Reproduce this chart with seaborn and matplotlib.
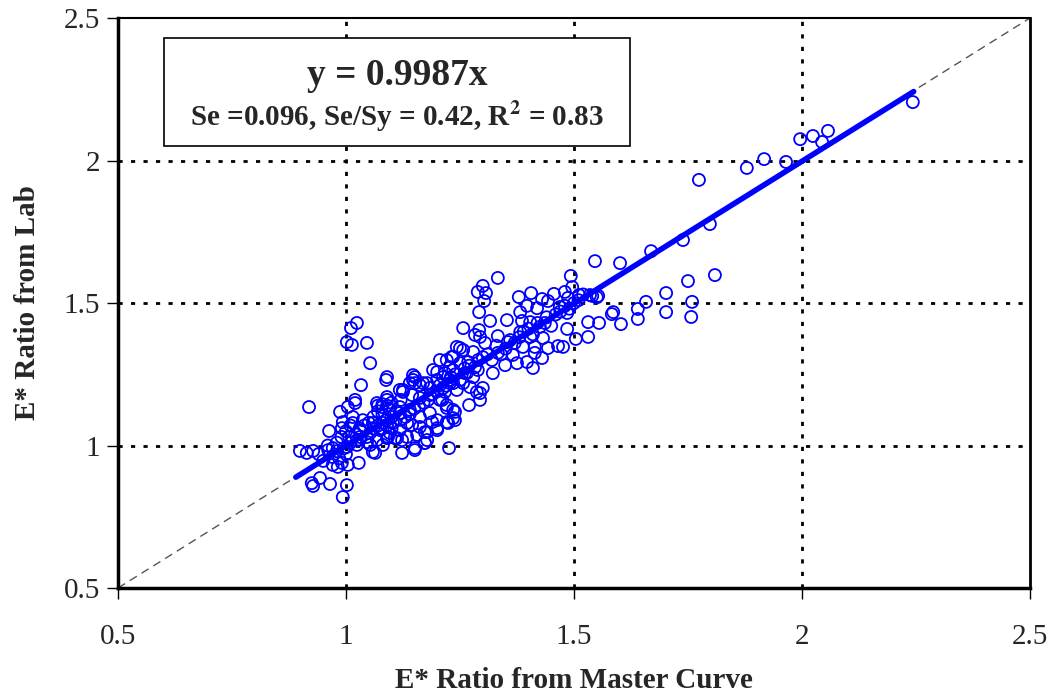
import numpy as np
import matplotlib
matplotlib.use("Agg")
import matplotlib.pyplot as plt
import matplotlib.patches as patches
import seaborn as sns
import pandas as pd

# E* ratio from master curve (x) vs E* ratio from lab (y)
x_master = [
    2.243, 2.057, 2.044, 2.024, 1.996, 1.965, 1.917, 1.879, 1.774, 1.798, 1.739, 1.669,
    1.546, 1.601, 1.809, 1.750, 1.702, 1.658, 1.759, 1.640, 1.702, 1.586, 1.583, 1.757,
    1.640, 1.555, 1.531, 1.603, 1.531, 1.520, 1.540, 1.550,
    1.333, 1.493, 1.496, 1.300, 1.289, 1.307, 1.303, 1.379, 1.406, 1.430, 1.456, 1.443,
    1.480, 1.487, 1.511, 1.535, 1.553, 1.397, 1.419, 1.382, 1.469, 1.485, 1.292, 1.353,
    1.316, 1.386, 1.404, 1.257, 1.292, 1.425, 1.436, 1.485, 1.504, 1.333, 1.382, 1.404,
    1.432, 1.294, 1.250, 1.305, 1.355, 1.388, 1.414, 1.443, 1.465, 1.476, 1.279, 1.333,
    1.366, 1.414, 1.430, 1.397, 1.349, 1.375, 1.410, 1.322, 1.289, 1.261, 1.228, 1.235,
    1.257, 1.300, 1.294, 1.294, 1.270, 1.239, 1.221, 1.211, 1.217, 1.221, 1.235,
    1.033, 1.088, 0.919, 1.020, 1.004, 0.987, 0.963, 0.993, 1.015, 0.991, 0.899, 0.914,
    0.928, 0.961, 0.971, 0.950, 0.971, 0.982, 0.991, 1.004, 1.028, 0.925, 0.943, 0.928,
    0.965, 1.002, 0.993, 1.024, 1.053, 1.081, 1.123, 1.151, 1.173, 1.226, 1.064, 1.031,
    1.046, 1.092, 1.107, 1.123, 1.156, 1.178, 1.189, 1.200, 1.221, 1.235,
    1.024, 1.011, 1.002, 1.013, 1.046, 1.053, 1.090, 1.151, 1.147, 1.162, 1.125, 1.090,
    1.020, 1.200, 1.213, 1.243,
    1.125, 1.151, 1.178, 1.206, 1.228, 1.145, 1.162, 1.184, 1.206, 1.221, 1.235, 1.068,
    1.079, 1.096, 1.118, 1.118, 1.140, 1.162, 1.184, 1.200, 1.224, 1.239, 1.015, 1.037,
    1.059, 1.081, 1.103, 1.134, 1.162, 1.031, 1.053, 1.075, 1.096, 1.118, 1.145, 1.173,
    1.200, 1.007, 1.024, 1.046, 1.112, 1.134, 1.178, 1.068, 1.090, 1.002, 1.059, 1.151,
    1.173,
    1.283, 1.206, 1.232, 1.257, 1.250, 1.268, 1.147, 1.191, 1.217, 1.235, 1.265, 1.283,
    1.140, 1.169, 1.200, 1.228, 1.250, 1.279, 1.184, 1.213, 1.243, 1.272, 1.118, 1.287,
    1.090,
    1.060, 1.070, 1.080, 1.090, 1.100, 1.070, 1.080, 1.090, 1.100, 1.060, 1.070, 1.080,
    1.090, 1.110, 1.100, 1.120, 1.050, 1.040, 1.030, 1.120, 1.130, 1.140, 1.150, 1.160,
    1.170, 1.180, 1.190, 1.200, 1.220, 1.230, 1.240, 1.260, 1.270, 1.290, 1.300, 1.310,
    1.320, 1.330, 1.340, 1.350, 1.360, 1.370, 1.380, 1.390, 1.400, 1.410, 1.420, 1.440,
    1.450, 1.460, 1.470, 1.480, 1.490, 1.500, 1.510,
    0.960, 0.980, 0.990, 1.000, 1.010, 0.970, 0.980, 1.000, 1.010, 1.020, 1.030, 0.985,
    0.995, 0.940,
]
y_lab = [
    2.205, 2.104, 2.065, 2.086, 2.075, 1.995, 2.005, 1.974, 1.932, 1.777, 1.721, 1.682,
    1.647, 1.640, 1.598, 1.577, 1.535, 1.504, 1.504, 1.479, 1.468, 1.468, 1.461, 1.451,
    1.444, 1.430, 1.433, 1.426, 1.381, 1.530, 1.525, 1.520,
    1.588, 1.595, 1.556, 1.560, 1.539, 1.535, 1.507, 1.521, 1.535, 1.514, 1.532, 1.507,
    1.539, 1.518, 1.528, 1.528, 1.525, 1.490, 1.482, 1.468, 1.486, 1.465, 1.468, 1.440,
    1.437, 1.437, 1.433, 1.412, 1.405, 1.416, 1.430, 1.409, 1.374, 1.384, 1.398, 1.381,
    1.377, 1.381, 1.342, 1.360, 1.363, 1.346, 1.346, 1.342, 1.349, 1.346, 1.328, 1.325,
    1.318, 1.325, 1.307, 1.293, 1.282, 1.289, 1.272, 1.254, 1.265, 1.254, 1.275, 1.219,
    1.219, 1.202, 1.184, 1.160, 1.142, 1.118, 1.132, 1.160, 1.188, 1.300, 1.311,
    1.212, 1.230, 1.135, 1.149, 1.135, 1.118, 1.051, 1.082, 1.079, 1.061, 0.981, 0.974,
    0.981, 0.984, 0.991, 0.946, 0.932, 0.925, 0.939, 0.932, 0.939, 0.868, 0.886, 0.858,
    0.865, 0.861, 0.819, 1.002, 1.002, 1.002, 0.974, 0.991, 1.009, 0.991, 0.974, 1.030,
    1.030, 1.030, 1.026, 1.019, 1.037, 1.047, 1.082, 1.061, 1.082, 1.096,
    1.430, 1.412, 1.363, 1.353, 1.360, 1.289, 1.240, 1.240, 1.230, 1.212, 1.195, 1.170,
    1.160, 1.258, 1.240, 1.346,
    1.188, 1.219, 1.219, 1.212, 1.219, 1.177, 1.167, 1.177, 1.160, 1.142, 1.125, 1.149,
    1.135, 1.125, 1.135, 1.114, 1.125, 1.100, 1.114, 1.089, 1.079, 1.089, 1.100, 1.089,
    1.079, 1.079, 1.079, 1.079, 1.065, 1.054, 1.044, 1.054, 1.044, 1.054, 1.072, 1.047,
    1.054, 1.030, 1.019, 1.012, 1.026, 1.030, 1.019, 1.019, 1.026, 0.995, 0.977, 0.984,
    1.009,
    1.388, 1.300, 1.311, 1.335, 1.289, 1.293, 1.247, 1.265, 1.254, 1.265, 1.254, 1.275,
    1.219, 1.219, 1.230, 1.230, 1.230, 1.240, 1.202, 1.202, 1.195, 1.205, 1.195, 1.188,
    1.160,
    1.100, 1.120, 1.110, 1.090, 1.100, 1.070, 1.060, 1.070, 1.060, 1.060, 1.140, 1.145,
    1.140, 1.120, 1.150, 1.160, 1.080, 1.070, 1.060, 1.090, 1.100, 1.110, 1.130, 1.140,
    1.150, 1.160, 1.180, 1.190, 1.210, 1.240, 1.250, 1.270, 1.280, 1.300, 1.310, 1.320,
    1.300, 1.350, 1.320, 1.340, 1.370, 1.360, 1.380, 1.400, 1.410, 1.390, 1.430, 1.450,
    1.420, 1.460, 1.470, 1.490, 1.480, 1.500, 1.510,
    1.000, 1.010, 1.030, 1.050, 1.070, 0.960, 0.980, 0.970, 1.010, 1.040, 1.020, 0.955,
    0.990, 0.970,
]

slope = 0.9987
fit_x = [0.89, 2.245]
ticks = [0.5, 1, 1.5, 2, 2.5]
tick_labels = ["0.5", "1", "1.5", "2", "2.5"]

df = pd.DataFrame({"master": x_master, "lab": y_lab})
fit_df = pd.DataFrame({"x": fit_x, "y": [slope * v for v in fit_x]})
diag_df = pd.DataFrame({"x": [0.5, 2.5], "y": [0.5, 2.5]})

sns.set_style("white")
plt.rcParams["font.family"] = ["Liberation Serif", "DejaVu Serif"]
plt.rcParams["mathtext.fontset"] = "stix"

fig = plt.figure(figsize=(10.6, 6.93), dpi=100)
ax = fig.add_axes([0.1113, 0.1515, 0.8604, 0.8225])

# gridlines
for t in [1, 1.5, 2]:
    ax.axvline(t, color="black", lw=2, ls=(0, (1.5, 3)), zorder=0)
    ax.axhline(t, color="black", lw=2, ls=(0, (1.5, 3)), zorder=0)

sns.lineplot(data=diag_df, x="x", y="y", ax=ax, color="#555555", lw=1,
             linestyle=(0, (6, 4)), zorder=1)
sns.scatterplot(data=df, x="master", y="lab", ax=ax, marker="o", s=75,
                facecolor="none", edgecolor="#0000ff", linewidth=1.3, zorder=2)
sns.lineplot(data=fit_df, x="x", y="y", ax=ax, color="#0000ff", lw=4, zorder=3)

ax.set_xlim(0.5, 2.5)
ax.set_ylim(0.5, 2.5)
ax.set_xticks(ticks)
ax.set_xticklabels(tick_labels)
ax.set_yticks(ticks)
ax.set_yticklabels(tick_labels)
ax.tick_params(axis="both", direction="out", length=8, width=1, labelsize=21,
               color="black", bottom=True, left=True)
ax.tick_params(axis="x", pad=18)
ax.tick_params(axis="y", pad=5)

for side, w in [("left", 2.5), ("bottom", 2.5), ("top", 1.5), ("right", 2)]:
    ax.spines[side].set_visible(True)
    ax.spines[side].set_color("black")
    ax.spines[side].set_linewidth(w)

ax.set_xlabel("E* Ratio from Master Curve", fontsize=21, fontweight="bold", labelpad=12)
ax.set_ylabel("E* Ratio from Lab", fontsize=21, fontweight="bold", labelpad=16)

# equation box
ax.add_patch(patches.Rectangle((0.0504, 0.7754), 0.511, 0.1895, transform=ax.transAxes,
                               facecolor="white", edgecolor="black", lw=1.2, zorder=4))
ax.text(0.306, 0.90, "y = 0.9987x", transform=ax.transAxes, ha="center", va="center",
        fontsize=27, fontweight="bold", zorder=5)
ax.text(0.306, 0.826, r"Se =0.096, Se/Sy = 0.42, R$^{\mathbf{2}}$ = 0.83",
        transform=ax.transAxes, ha="center", va="center", fontsize=21,
        fontweight="bold", zorder=5)

fig.savefig("out.png", dpi=100)
